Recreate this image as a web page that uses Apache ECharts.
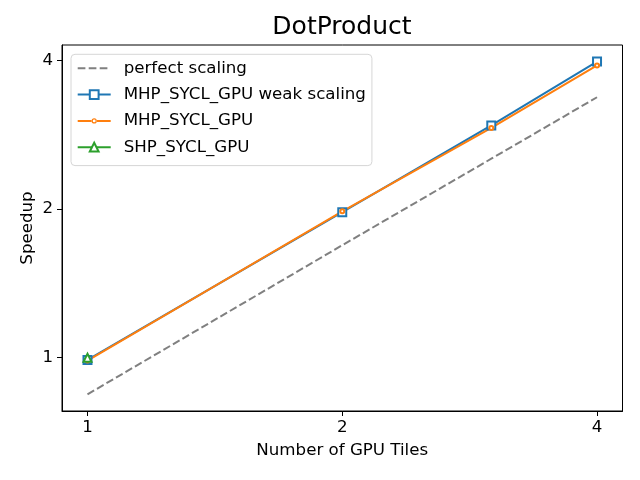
<!DOCTYPE html>
<html>
<head>
<meta charset="utf-8">
<script src="https://cdn.jsdelivr.net/npm/echarts@6/dist/echarts.min.js"></script>
<style>html,body{margin:0;padding:0;background:#fff}#c{width:640px;height:480px}</style>
</head>
<body>
<div id="c"></div>
<script>
const tiles = [1, 2, 3, 4];
const perfectScaling = [0.843, 1.69, 2.53, 3.37];
const mhpWeak = [0.99, 1.972, 2.955, 3.98];
const mhp = [0.987, 1.98, 2.92, 3.91];
const shpTiles = [1];
const shp = [1.0];
const tickValues = [1, 2, 4];

const FONT = 'DejaVu Sans';
function pairs(xs, ys) { return xs.map((x, i) => [x, ys[i]]); }

// small hollow-circle legend handle (line + ring), matplotlib style
const smallCircleIcon = 'path://M0,4.5 L14.2,4.5 L14.2,6.5 L0,6.5 Z M18.8,4.5 L33,4.5 L33,6.5 L18.8,6.5 Z ' +
  'M19.1,5.5 A2.6,2.6 0 1,0 13.9,5.5 A2.6,2.6 0 1,0 19.1,5.5 Z ' +
  'M17.9,5.5 A1.4,1.4 0 1,1 15.1,5.5 A1.4,1.4 0 1,1 17.9,5.5 Z';

const chart = echarts.init(document.getElementById('c'), null, { renderer: 'canvas' });
chart.setOption({
  animation: false,
  backgroundColor: '#fff',
  title: {
    text: 'DotProduct',
    left: 342, top: 15, textAlign: 'center', padding: 0,
    textStyle: { fontFamily: FONT, fontSize: 25, fontWeight: 'normal', color: '#000' }
  },
  grid: { left: 62, right: 17.5, top: 45, bottom: 69, show: true, borderColor: '#000', borderWidth: 1, backgroundColor: 'transparent' },
  legend: {
    orient: 'vertical', left: 71, top: 54.3,
    padding: [4, 6, 8.4, 5.7],
    itemWidth: 33, itemHeight: 11, itemGap: 6.3,
    backgroundColor: 'rgba(255,255,255,0.8)', borderColor: '#d6d6d6', borderWidth: 1, borderRadius: 4,
    textStyle: { fontFamily: FONT, fontSize: 16.67, color: '#000', lineHeight: 20, padding: [0, 0, 0, 8] },
    data: [
      { name: 'perfect scaling', itemStyle: { opacity: 0 } },
      { name: 'MHP_SYCL_GPU weak scaling' },
      { name: 'MHP_SYCL_GPU', icon: smallCircleIcon, itemStyle: { color: '#ff7f0e', borderWidth: 0 } },
      { name: 'SHP_SYCL_GPU' }
    ]
  },
  xAxis: {
    type: 'log', logBase: 2, min: 0.933, max: 4.287,
    name: 'Number of GPU Tiles', nameLocation: 'middle', nameGap: 30.7, nameMoveOverlap: false,
    nameTextStyle: { fontFamily: FONT, fontSize: 16.67, color: '#000' },
    axisLine: { show: true, lineStyle: { color: '#000', width: 1 } },
    axisTick: { show: true, length: 5, customValues: tickValues, lineStyle: { color: '#000', width: 1 } },
    axisLabel: { customValues: tickValues, margin: 8, fontFamily: FONT, fontSize: 16.67, color: '#000' },
    splitLine: { show: false }, minorTick: { show: false }, minorSplitLine: { show: false }
  },
  yAxis: {
    type: 'log', logBase: 2, min: 0.78, max: 4.30,
    name: 'Speedup', nameLocation: 'middle', nameGap: 26, nameMoveOverlap: false,
    nameTextStyle: { fontFamily: FONT, fontSize: 16.67, color: '#000' },
    axisLine: { show: true, lineStyle: { color: '#000', width: 1 } },
    axisTick: { show: true, length: 5, customValues: tickValues, lineStyle: { color: '#000', width: 1 } },
    axisLabel: { customValues: tickValues, margin: 9, fontFamily: FONT, fontSize: 16.67, color: '#000' },
    splitLine: { show: false }, minorTick: { show: false }, minorSplitLine: { show: false }
  },
  series: [
    {
      name: 'perfect scaling', type: 'line', data: pairs(tiles, perfectScaling),
      symbol: 'none', color: '#808080',
      lineStyle: { color: '#808080', width: 2, type: [7.7, 3.3] }
    },
    {
      name: 'MHP_SYCL_GPU weak scaling', type: 'line', data: pairs(tiles, mhpWeak),
      symbol: 'emptyRect', symbolSize: 8, color: '#1f77b4',
      itemStyle: { color: '#1f77b4', borderWidth: 1.4 },
      lineStyle: { color: '#1f77b4', width: 2 }
    },
    {
      name: 'MHP_SYCL_GPU', type: 'line', data: pairs(tiles, mhp),
      symbol: 'emptyCircle', symbolSize: 4, color: '#ff7f0e',
      itemStyle: { color: '#ff7f0e', borderWidth: 1.2 },
      lineStyle: { color: '#ff7f0e', width: 2 }
    },
    {
      name: 'SHP_SYCL_GPU', type: 'line', data: pairs(shpTiles, shp),
      symbol: 'emptyTriangle', symbolSize: 8, color: '#2ca02c',
      itemStyle: { color: '#2ca02c', borderWidth: 1.4 },
      lineStyle: { color: '#2ca02c', width: 2 }
    }
  ]
});
</script>
</body>
</html>
